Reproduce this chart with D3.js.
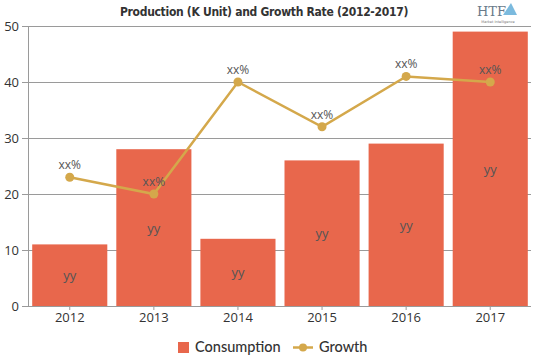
<!DOCTYPE html>
<html><head><meta charset="utf-8">
<script src="https://cdn.jsdelivr.net/npm/d3@7"></script>
<style>body{margin:0;background:#fff}svg{display:block}</style>
</head><body>
<svg id="c" width="539" height="359"></svg>
<script>
const years = ["2012","2013","2014","2015","2016","2017"];
const consumption = [11, 28, 12, 26, 29, 49];
const growth = [23, 20, 40, 32, 41, 40];
const barLabels = ["yy","yy","yy","yy","yy","yy"];
const growthLabels = ["xx%","xx%","xx%","xx%","xx%","xx%"];
const yTicks = [0,10,20,30,40,50];

const svg = d3.select("#c");
const m = {l:28, r:7, t:26, b:53};
const W = 539, H = 359;
const x = d3.scaleBand().domain(years).range([m.l, W - m.r]).paddingInner(0.107).paddingOuter(0.05);
const y = d3.scaleLinear().domain([0,50]).range([H - m.b, m.t]);

// grid
svg.append("g").selectAll("line").data(yTicks).join("line")
  .attr("x1", m.l - 6).attr("x2", 531)
  .attr("y1", d => y(d)).attr("y2", d => y(d))
  .attr("stroke", "#9a9a9a").attr("stroke-width", 1).attr("shape-rendering","crispEdges");

// y axis
const ya = svg.append("g").attr("transform", `translate(${m.l},0)`)
  .call(d3.axisLeft(y).tickValues(yTicks).tickSize(0).tickPadding(9));
ya.select(".domain").attr("stroke","#9a9a9a");
ya.selectAll("text").attr("font-family","'Open Sans', sans-serif").attr("font-size",13).attr("fill","#333");

// bars
svg.append("g").selectAll("rect").data(years).join("rect")
  .attr("x", d => x(d)).attr("width", x.bandwidth())
  .attr("y", (d,i) => y(consumption[i])).attr("height", (d,i) => y(0) - y(consumption[i]))
  .attr("fill", "#E8674C");

// x axis
const xa = svg.append("g").attr("transform", `translate(0,${y(0)})`)
  .call(d3.axisBottom(x).tickSize(4).tickPadding(3));
xa.select(".domain").attr("stroke","#9a9a9a").attr("d", `M${m.l},0.5H531`);
xa.selectAll(".tick line").attr("stroke","#9a9a9a");
xa.selectAll("text").attr("font-family","'Open Sans', sans-serif").attr("font-size",13).attr("fill","#333");

// bar labels
svg.append("g").selectAll("text").data(years).join("text")
  .attr("x", d => x(d) + x.bandwidth()/2)
  .attr("y", (d,i) => (y(consumption[i]) + y(0))/2 + 5)
  .attr("text-anchor","middle").attr("font-family","'Open Sans', sans-serif").attr("font-size",13)
  .attr("fill","#555").text((d,i) => barLabels[i]);

// growth line
const line = d3.line().x((d,i) => x(years[i]) + x.bandwidth()/2).y(d => y(d));
svg.append("path").datum(growth).attr("d", line).attr("fill","none")
  .attr("stroke","#D4A84B").attr("stroke-width",2.5);
svg.append("g").selectAll("circle").data(growth).join("circle")
  .attr("cx", (d,i) => x(years[i]) + x.bandwidth()/2).attr("cy", d => y(d)).attr("r", 4.5)
  .attr("fill","#D4A84B");
svg.append("g").selectAll("text").data(growth).join("text")
  .attr("x", (d,i) => x(years[i]) + x.bandwidth()/2).attr("y", d => y(d) - 8)
  .attr("text-anchor","middle").attr("font-family","'Open Sans', sans-serif").attr("font-size",12)
  .attr("fill","#555").text((d,i) => growthLabels[i]);

// title
svg.append("text").attr("x", 264).attr("y", 16).attr("text-anchor","middle")
  .attr("font-family","'DejaVu Sans Condensed', 'DejaVu Sans', sans-serif").attr("font-weight","bold")
  .attr("font-size",12).attr("fill","#333").attr("letter-spacing","-0.3")
  .text("Production (K Unit) and Growth Rate (2012-2017)");

// logo
svg.append("text").attr("x", 477).attr("y", 16).attr("font-family","'DejaVu Serif', serif")
  .attr("font-size",13).attr("fill","#6a7a8a").text("HTF");
svg.append("path").attr("d","M503,15 L511,3 L517,15 Z").attr("fill","#5aa9d6").attr("opacity",0.8);
svg.append("text").attr("x", 498).attr("y", 23).attr("text-anchor","middle").attr("font-family","'DejaVu Sans', sans-serif")
  .attr("font-size",3.5).attr("fill","#777").text("Market Intelligence");

// legend
const lg = svg.append("g");
lg.append("rect").attr("x",178).attr("y",342).attr("width",11).attr("height",11).attr("fill","#E8674C");
lg.append("text").attr("x",195).attr("y",352).attr("font-family","Lato, sans-serif").attr("font-size",14.5)
  .attr("font-weight","500").attr("fill","#333").text("Consumption");
lg.append("line").attr("x1",293).attr("x2",313).attr("y1",347.5).attr("y2",347.5).attr("stroke","#D4A84B").attr("stroke-width",2.5);
lg.append("circle").attr("cx",303).attr("cy",347.5).attr("r",4).attr("fill","#D4A84B");
lg.append("text").attr("x",319).attr("y",352).attr("font-family","Lato, sans-serif").attr("font-size",14.5)
  .attr("font-weight","500").attr("fill","#333").text("Growth");
</script>
</body></html>
